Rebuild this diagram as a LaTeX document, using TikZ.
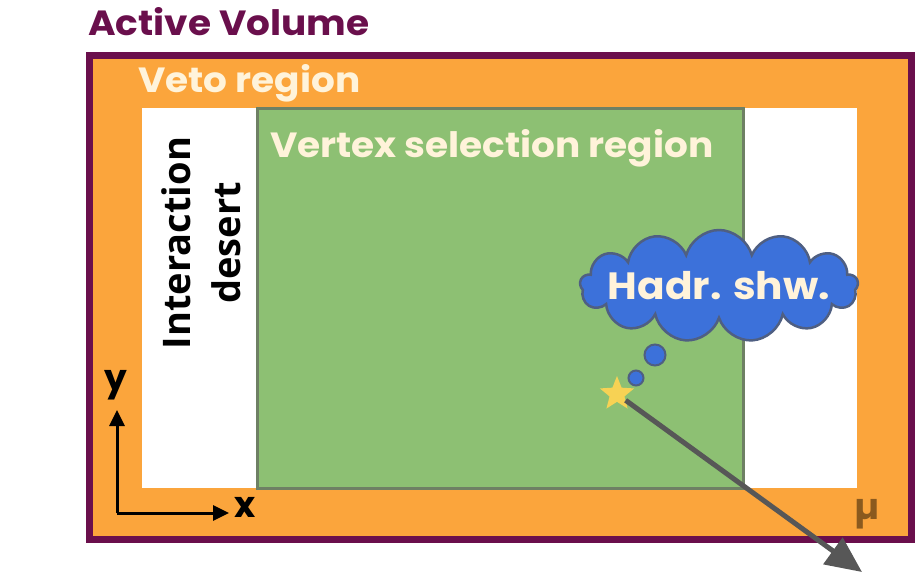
\documentclass[tikz,border=0pt]{standalone}
\usepackage{fontspec}
\setmainfont{Poppins}
\newfontfamily\labelfont[FakeStretch=1.07]{Poppins}
\newfontfamily\desertfont{Open Sans}
\usetikzlibrary{arrows.meta,shapes.symbols,shapes.geometric}

\definecolor{avpurple}{HTML}{6A0F4C}
\definecolor{vetoorange}{HTML}{FBA53C}
\definecolor{vtxgreen}{HTML}{8DC073}
\definecolor{vtxedge}{HTML}{6E8064}
\definecolor{showerblue}{HTML}{3C71DA}
\definecolor{showeredge}{HTML}{4F5F82}
\definecolor{staryellow}{HTML}{F7D254}
\definecolor{trackgrey}{HTML}{575757}
\definecolor{mubrown}{HTML}{8A5A1E}
\definecolor{labelcream}{HTML}{FFF3DA}

\begin{document}
\begin{tikzpicture}[
  x=1pt, y=-1pt,
  region/.style={font=\labelfont\bfseries\fontsize{35}{37}\selectfont, anchor=base west, inner sep=0pt},
  bubble/.style={circle, fill=showerblue, draw=showeredge, line width=2pt, inner sep=0pt},
  axis/.style={line width=3pt, -{Triangle[length=16pt,width=15pt]}}
]
\useasboundingbox (0,0) rectangle (916,574);

% detector regions
\draw[avpurple, line width=7pt, fill=vetoorange] (89,55) rectangle (911,539);
\fill[white] (142,108) rectangle (857,488);
\draw[vtxedge, line width=3pt, fill=vtxgreen] (257,108) rectangle (743,488);

% region labels
\node[region, text=avpurple] (av) at (88,35) {Active Volume};
\node[region, text=labelcream] (veto) at (138,92) {Veto region};
\node[region, text=labelcream] (vsel) at (270,157) {Vertex selection region};
\node[rotate=90, align=center, font=\desertfont\bfseries\fontsize{38}{50}\selectfont] (desert) at (201,243) {Interaction\\desert};
\node[font=\bfseries\fontsize{36}{38}\selectfont, text=mubrown] (mu) at (867,514) {µ};

% shower and vertex
\node[cloud, cloud puffs=13, aspect=2.45, fill=showerblue, draw=showeredge, line width=2.5pt,
  minimum width=278, minimum height=112, inner sep=0pt,
  label={[text=labelcream, font=\labelfont\bfseries\fontsize{38}{40}\selectfont]center:Hadr. shw.}] (shw) at (719,286) {};
\node[bubble, minimum size=21] (bub1) at (655,355) {};
\node[bubble, minimum size=15] (bub2) at (636,378) {};
\node[star, star points=5, star point ratio=2.3, fill=staryellow, inner sep=0pt, minimum size=36] (vtx) at (617,394) {};
\coordinate (trackend) at (862,572);
\draw[trackgrey, line width=5pt, -{Triangle[length=36pt,width=32pt]}] (vtx) -- (trackend);

% axes
\coordinate (origin) at (117,513);
\coordinate (ytip) at (117,410);
\coordinate (xtip) at (229,513);
\draw[axis] (origin) -- (ytip);
\draw[axis] (origin) -- (xtip);
\node[font=\bfseries\fontsize{36}{38}\selectfont] (ylab) at (116,385) {y};
\node[font=\bfseries\fontsize{36}{38}\selectfont] (xlab) at (245,507) {x};
\end{tikzpicture}
\end{document}
